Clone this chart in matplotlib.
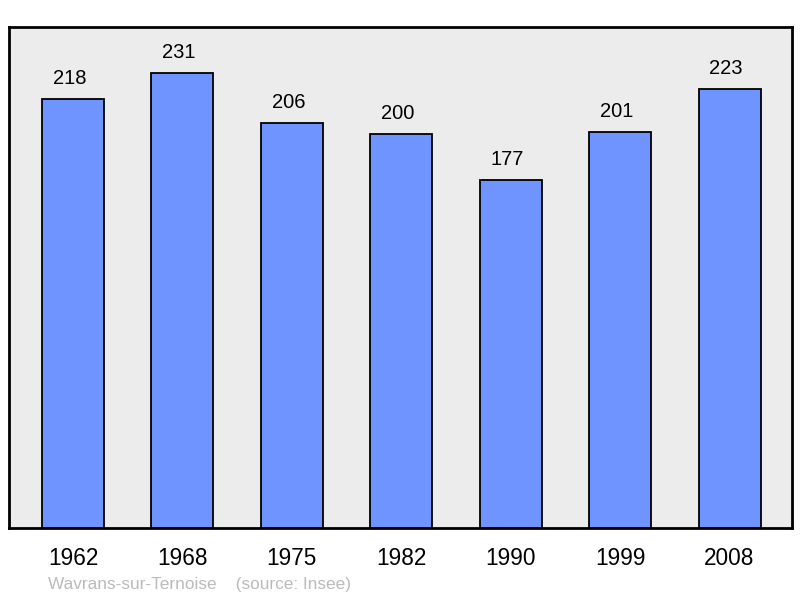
import matplotlib
matplotlib.use("Agg")
import matplotlib.pyplot as plt

years = ["1962", "1968", "1975", "1982", "1990", "1999", "2008"]
population = [218, 231, 206, 200, 177, 201, 223]

plt.rcParams['font.family'] = ['Liberation Sans', 'DejaVu Sans']

fig = plt.figure(figsize=(8, 5.98), dpi=100)
ax = fig.add_axes([9/800, 1-528/598, 783/800, 501/598])
ax.set_facecolor('#ececec')

x = list(range(len(years)))
ax.bar(x, population, width=0.567, color='#7094ff', edgecolor='black', linewidth=1.3, zorder=2)
for xi, v in zip(x, population):
    ax.annotate(str(v), (xi, v), xytext=(-2.5, 8), textcoords='offset points',
                ha='center', va='bottom', fontsize=14.5, color='black')

ax.set_xlim(-0.585, 6.571)
ax.set_ylim(0, 254.6)
ax.set_xticks(x)
ax.set_xticklabels(years, fontsize=16.3)
ax.tick_params(axis='x', length=0, pad=14)
ax.set_yticks([])
for s in ax.spines.values():
    s.set_linewidth(2)
    s.set_color('black')

fig.text(48/800, 1-584/598, "Wavrans-sur-Ternoise    (source: Insee)", fontsize=12.4,
         color='#bbbbbb', ha='left', va='center')

fig.savefig("out.png", dpi=100)
